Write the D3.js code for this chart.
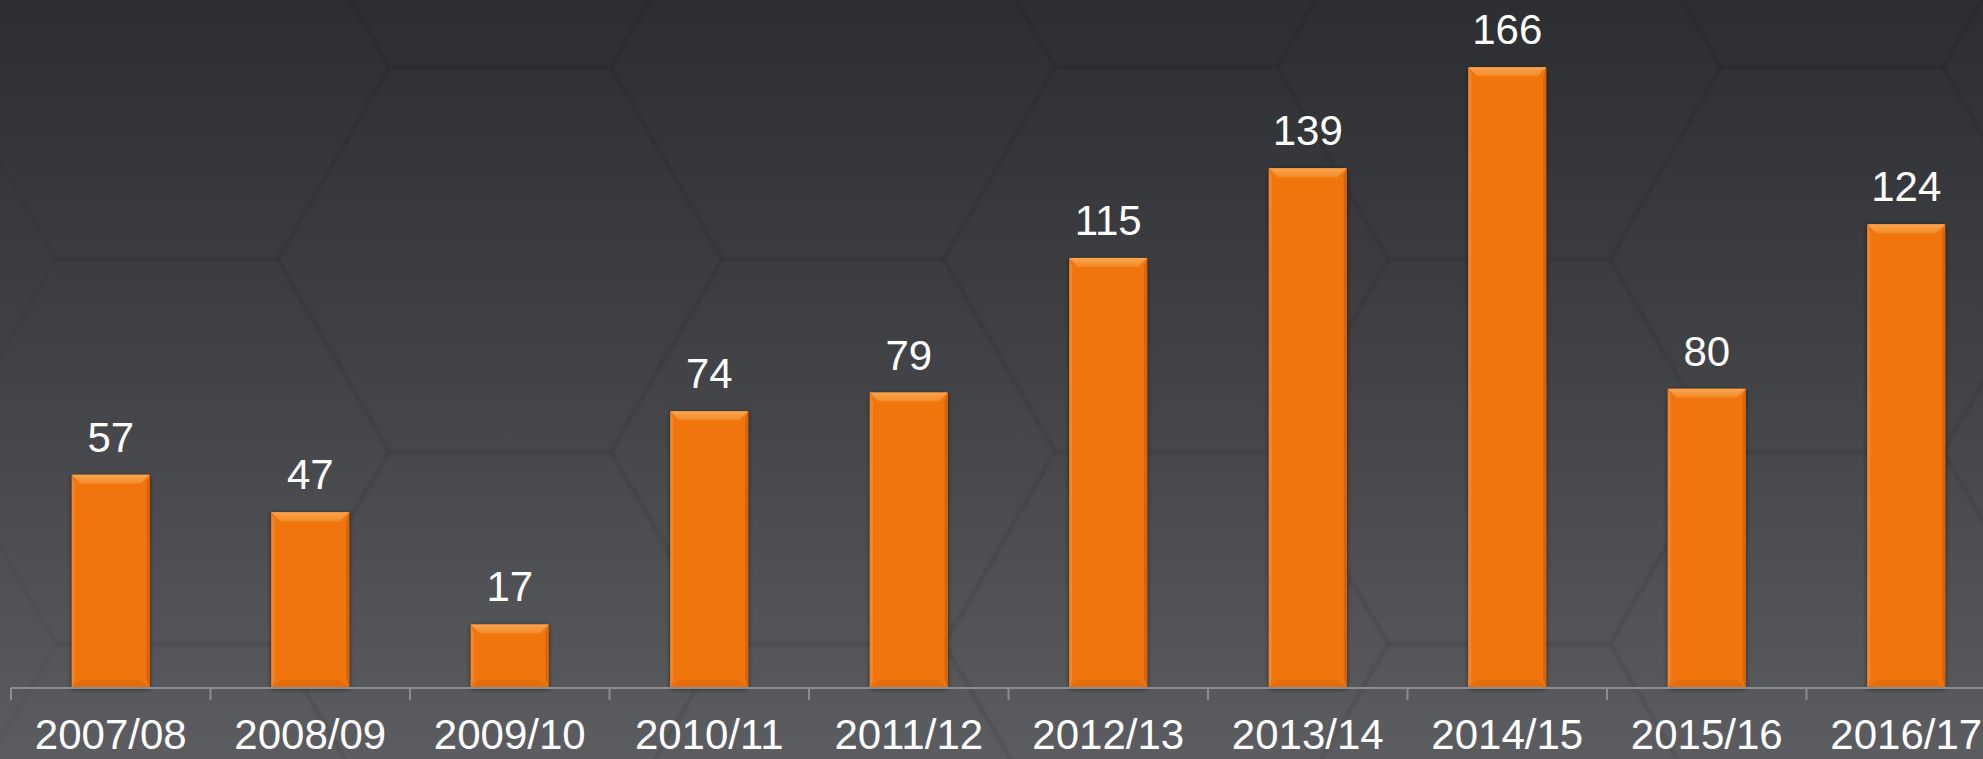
<!DOCTYPE html>
<html>
<head>
<meta charset="utf-8">
<script src="https://cdn.jsdelivr.net/npm/d3@7"></script>
<style>
  html, body { margin: 0; padding: 0; background: #3c3d41; overflow: hidden; }
  svg { display: block; }
</style>
</head>
<body>
<div id="chart"></div>
<script>
// data
var years = ["2007/08", "2008/09", "2009/10", "2010/11", "2011/12",
             "2012/13", "2013/14", "2014/15", "2015/16", "2016/17"];
var counts = [57, 47, 17, 74, 79, 115, 139, 166, 80, 124];
var yDomain = [0, 180];

var width = 1983, height = 759;
var baseY = 688;
var fontSize = 42;

var svg = d3.select("#chart").append("svg")
    .attr("width", width)
    .attr("height", height);

var defs = svg.append("defs");

// background gradient
var bg = defs.append("linearGradient").attr("id", "bg")
    .attr("x1", 0).attr("y1", 0).attr("x2", 0).attr("y2", 1);
bg.append("stop").attr("offset", "0%").attr("stop-color", "#2d2e32");
bg.append("stop").attr("offset", "45%").attr("stop-color", "#404145");
bg.append("stop").attr("offset", "100%").attr("stop-color", "#5b5d61");

svg.append("rect")
    .attr("width", width).attr("height", height)
    .attr("fill", "url(#bg)");

// faint honeycomb in the background
var side = 222, rowH = Math.sqrt(3) * side;
var hexes = [];
for (var c = -2; c < 9; c++) {
  for (var r = -2; r < 4; r++) {
    hexes.push([833 + c * 1.5 * side, 67 + r * rowH + (c % 2 !== 0 ? rowH / 2 : 0)]);
  }
}
function hexPath(cx, cy) {
  var pts = d3.range(6).map(function(k) {
    var a = Math.PI / 3 * k;
    return [cx + side * Math.cos(a), cy + side * Math.sin(a)];
  });
  return "M" + pts.join("L") + "Z";
}
var blur = defs.append("filter").attr("id", "soft");
blur.append("feGaussianBlur").attr("stdDeviation", 1.5);

var hexG = svg.append("g").attr("filter", "url(#soft)");
hexG.selectAll("path.hx").data(hexes).enter().append("path")
    .attr("d", function(d) { return hexPath(d[0], d[1]); })
    .attr("fill", "none")
    .attr("stroke", "rgba(0,0,0,0.06)")
    .attr("stroke-width", 4)
    .attr("stroke-linejoin", "round");

// scales
var x = d3.scaleBand()
    .domain(years)
    .range([11, 11 + 199.5 * years.length])
    .paddingInner(0.61)
    .paddingOuter(0.305);

var y = d3.scaleLinear()
    .domain(yDomain)
    .range([baseY, baseY - 3.74 * yDomain[1]]);

// bar gradients
var topG = defs.append("linearGradient").attr("id", "bevTop")
    .attr("x1", 0).attr("y1", 0).attr("x2", 0).attr("y2", 1);
topG.append("stop").attr("offset", "0%").attr("stop-color", "#f9a552");
topG.append("stop").attr("offset", "100%").attr("stop-color", "#f38a26");

var shadow = defs.append("filter").attr("id", "shadow")
    .attr("x", "-20%").attr("y", "-10%").attr("width", "140%").attr("height", "120%");
shadow.append("feDropShadow")
    .attr("dx", 0).attr("dy", 1).attr("stdDeviation", 2.5)
    .attr("flood-color", "#000").attr("flood-opacity", 0.55);

var bev = 9;
var bars = svg.append("g").selectAll("g.bar")
    .data(years.map(function(d, i) { return { year: d, value: counts[i] }; }))
    .enter().append("g")
    .attr("class", "bar");

bars.append("rect")
    .attr("x", function(d) { return x(d.year); })
    .attr("y", function(d) { return y(d.value); })
    .attr("width", x.bandwidth())
    .attr("height", function(d) { return y(0) - y(d.value); })
    .attr("fill", "#f07511")
    .attr("filter", "url(#shadow)");

// bevel faces
bars.each(function(d) {
  var g = d3.select(this);
  var x0 = x(d.year), x1 = x0 + x.bandwidth();
  var y0 = y(d.value), y1 = y(0);
  var b = Math.min(bev, (y1 - y0) / 2);
  var sb = 3;
  g.append("path")
      .attr("d", "M" + x0 + "," + y0 + "L" + x1 + "," + y0 + "L" + (x1 - b) + "," + (y0 + b) +
                 "L" + (x0 + b) + "," + (y0 + b) + "Z")
      .attr("fill", "url(#bevTop)");
  g.append("path")
      .attr("d", "M" + x0 + "," + y0 + "L" + (x0 + sb) + "," + (y0 + b) + "L" + (x0 + sb) + "," + (y1 - b) +
                 "L" + x0 + "," + y1 + "Z")
      .attr("fill", "#f3852a");
  g.append("path")
      .attr("d", "M" + x1 + "," + y0 + "L" + (x1 - sb) + "," + (y0 + b) + "L" + (x1 - sb) + "," + (y1 - b) +
                 "L" + x1 + "," + y1 + "Z")
      .attr("fill", "#d8630a");
  g.append("path")
      .attr("d", "M" + x0 + "," + y1 + "L" + x1 + "," + y1 + "L" + (x1 - b) + "," + (y1 - b + 1) +
                 "L" + (x0 + b) + "," + (y1 - b + 1) + "Z")
      .attr("fill", "#e56c0d");
});

// value labels
bars.append("text")
    .attr("x", function(d) { return x(d.year) + x.bandwidth() / 2; })
    .attr("y", function(d) { return y(d.value) - 23; })
    .attr("text-anchor", "middle")
    .attr("font-family", "'Liberation Sans', Arial, sans-serif")
    .attr("font-size", fontSize)
    .attr("fill", "#ffffff")
    .text(function(d) { return d.value; });

// x axis
var axis = svg.append("g")
    .attr("transform", "translate(0," + baseY + ")")
    .call(d3.axisBottom(x).tickSize(0).tickSizeOuter(0).tickPadding(0));
axis.select(".domain").remove();
axis.selectAll(".tick line").remove();
axis.selectAll(".tick text")
    .attr("y", 61)
    .attr("dy", 0)
    .attr("font-family", "'Liberation Sans', Arial, sans-serif")
    .attr("font-size", fontSize)
    .attr("fill", "#ffffff");

var step = x.step();
var gridLines = axis.append("g");
gridLines.append("line")
    .attr("x1", x.range()[0]).attr("x2", x.range()[1])
    .attr("y1", 0).attr("y2", 0)
    .attr("stroke", "#8b8d91").attr("stroke-width", 2);
gridLines.selectAll("line.tk").data(d3.range(years.length + 1)).enter().append("line")
    .attr("class", "tk")
    .attr("x1", function(i) { return x.range()[0] + i * step; })
    .attr("x2", function(i) { return x.range()[0] + i * step; })
    .attr("y1", 0).attr("y2", 12)
    .attr("stroke", "#8b8d91").attr("stroke-width", 2);
</script>
</body>
</html>
